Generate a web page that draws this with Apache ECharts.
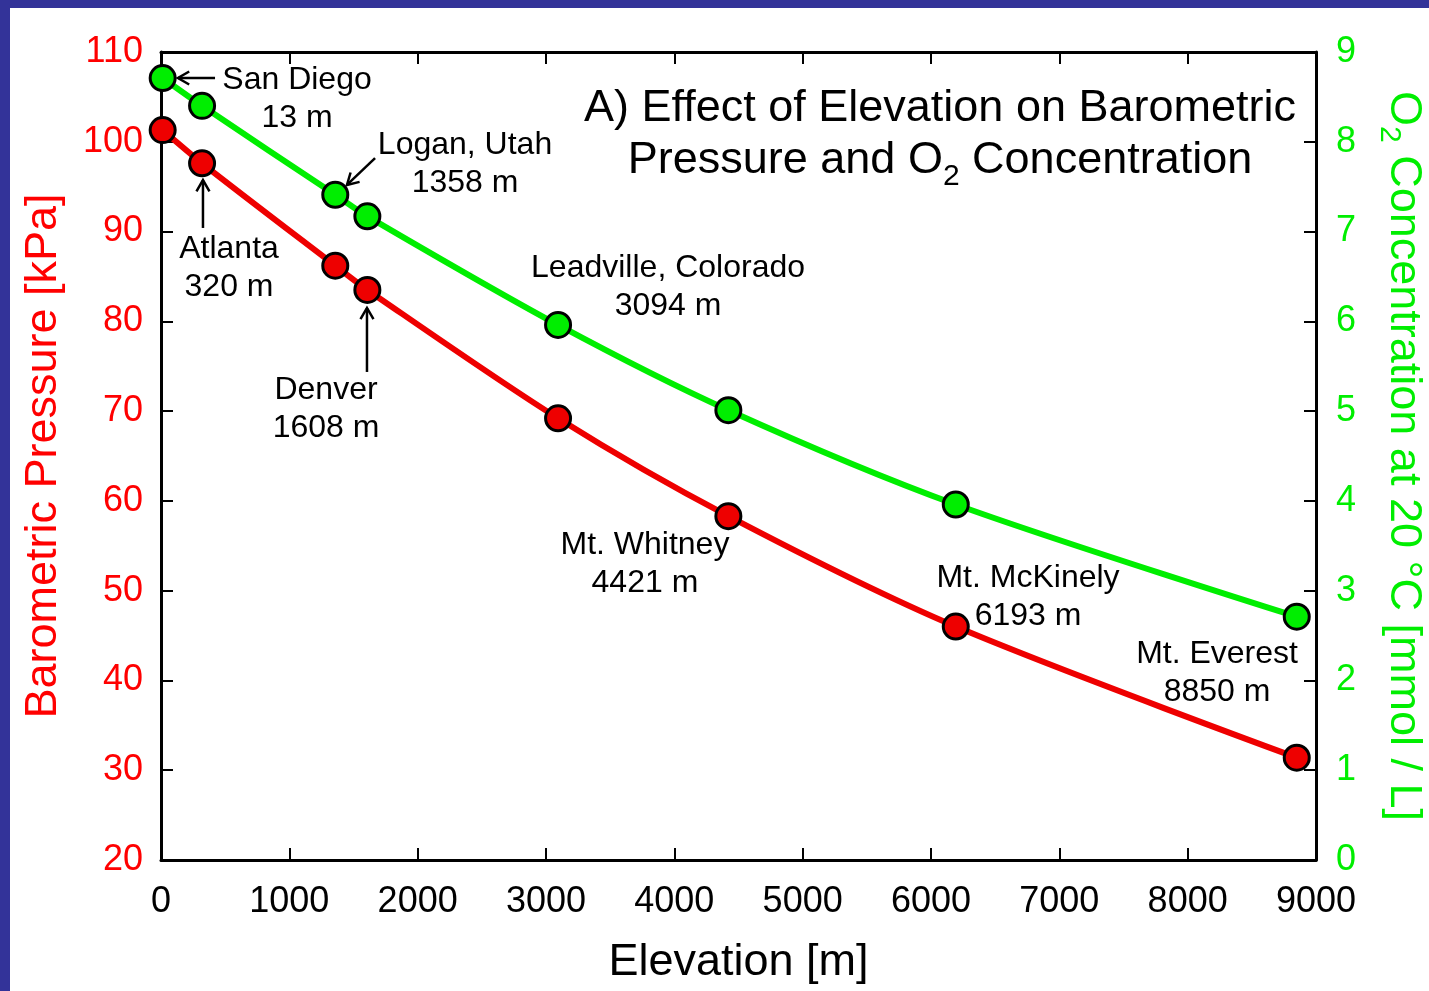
<!DOCTYPE html>
<html>
<head>
<meta charset="utf-8">
<script src="https://cdn.jsdelivr.net/npm/echarts@6/dist/echarts.min.js"></script>
<style>
html,body{margin:0;padding:0;background:#333399;width:1429px;height:991px;overflow:hidden;}
#c{position:absolute;left:10px;top:8px;width:1419px;height:983px;background:#fff;}
</style>
</head>
<body>
<div id="c"></div>
<script>
// ---- data ----
const elevations = [13, 320, 1358, 1608, 3094, 4421, 6193, 8850];
const pressure = [101.3, 97.6, 86.2, 83.5, 69.2, 58.3, 46.0, 31.4];
const o2 = [8.71, 8.40, 7.41, 7.17, 5.96, 5.01, 3.96, 2.71];
const placeNames = ['San Diego', 'Atlanta', 'Logan, Utah', 'Denver', 'Leadville, Colorado', 'Mt. Whitney', 'Mt. McKinely', 'Mt. Everest'];
const xTicks = [0, 1000, 2000, 3000, 4000, 5000, 6000, 7000, 8000, 9000];
const leftTicks = [20, 30, 40, 50, 60, 70, 80, 90, 100, 110];
const rightTicks = [0, 1, 2, 3, 4, 5, 6, 7, 8, 9];

// ---- annotation layout (data coordinates: elevation, pressure) ----
const labelAnchors = [
  [1060, 104.76], [530, 85.89], [2369, 97.53], [1286, 70.24],
  [3951, 83.77], [3771, 52.97], [6756, 49.30], [8229, 40.83]
];
const arrows = [
  [[421, 107.1], [132, 107.1]],
  [[327, 90.40], [327, 95.74]],
  [[1668, 98.19], [1449, 95.19]],
  [[1605, 74.36], [1605, 81.49]]
];

const FONT = "'Liberation Sans', Arial, sans-serif";
const RED = '#ff0000';
const GREEN = '#00ee00';

const chart = echarts.init(document.getElementById('c'), null, {renderer: 'canvas'});

const pData = elevations.map((e, i) => [e, pressure[i]]);
const oData = elevations.map((e, i) => [e, o2[i]]);

const tickCommon = {show: true, inside: true, length: 12, lineStyle: {color: '#000', width: 2}};

chart.setOption({
  animation: false,
  backgroundColor: '#fff',
  title: {
    text: '{a|A) Effect of Elevation on Barometric}\n{a|Pressure and O}{s|2}{a| Concentration}',
    left: 925, top: 70, textAlign: 'center',
    textStyle: {
      fontWeight: 'normal',
      rich: {
        a: {fontFamily: FONT, fontSize: 45, fontWeight: 'normal', color: '#000', lineHeight: 52, align: 'center'},
        s: {fontFamily: FONT, fontSize: 30, fontWeight: 'normal', color: '#000', lineHeight: 52, padding: [32, 0, 0, 0]}
      }
    }
  },
  grid: {left: 151, top: 44, right: 113, bottom: 131, containLabel: false, outerBoundsMode: 'none'},
  xAxis: [{
    type: 'value', min: xTicks[0], max: xTicks[xTicks.length - 1], interval: 1000,
    position: 'bottom',
    axisLine: {show: true, onZero: false, lineStyle: {color: '#000', width: 3}},
    axisTick: tickCommon,
    axisLabel: {color: '#000', fontSize: 36, fontFamily: FONT, margin: 24, formatter: v => String(v)},
    splitLine: {show: false},
    name: 'Elevation [m]', nameLocation: 'middle', nameGap: 80,
    nameTextStyle: {color: '#000', fontSize: 45, fontFamily: FONT}
  }, {
    type: 'value', min: xTicks[0], max: xTicks[xTicks.length - 1], interval: 1000,
    position: 'top',
    axisLine: {show: true, onZero: false, lineStyle: {color: '#000', width: 3}},
    axisTick: tickCommon,
    axisLabel: {show: false},
    splitLine: {show: false}
  }],
  yAxis: [{
    type: 'value', min: leftTicks[0], max: leftTicks[leftTicks.length - 1], interval: 10,
    position: 'left',
    axisLine: {show: true, onZero: false, lineStyle: {color: '#000', width: 3}},
    axisTick: tickCommon,
    axisLabel: {color: RED, fontSize: 36, fontFamily: FONT, margin: 18},
    splitLine: {show: false},
    name: 'Barometric Pressure [kPa]', nameLocation: 'middle', nameGap: 95,
    nameTextStyle: {color: RED, fontSize: 45, fontFamily: FONT}
  }, {
    type: 'value', min: rightTicks[0], max: rightTicks[rightTicks.length - 1], interval: 1,
    position: 'right',
    axisLine: {show: true, onZero: false, lineStyle: {color: '#000', width: 3}},
    axisTick: tickCommon,
    axisLabel: {color: GREEN, fontSize: 36, fontFamily: FONT, margin: 20},
    splitLine: {show: false},
    name: '{a|O}{s|2}{a| Concentration at 20 °C [mmol / L]}', nameLocation: 'middle', nameGap: 63, nameRotate: -90,
    nameTextStyle: {
      color: GREEN,
      rich: {
        a: {color: GREEN, fontSize: 45, fontFamily: FONT, lineHeight: 48},
        s: {color: GREEN, fontSize: 30, fontFamily: FONT, lineHeight: 48, padding: [28, 0, 0, 0]}
      }
    }
  }],
  series: [{
    name: 'O2', type: 'line', xAxisIndex: 0, yAxisIndex: 1, data: oData,
    smooth: 0.3, symbol: 'circle', symbolSize: 25,
    lineStyle: {color: GREEN, width: 6},
    itemStyle: {color: GREEN, borderColor: '#000', borderWidth: 3},
    z: 3
  }, {
    name: 'Pressure', type: 'line', xAxisIndex: 0, yAxisIndex: 0, data: pData,
    smooth: 0.3, symbol: 'circle', symbolSize: 25,
    lineStyle: {color: '#ee0000', width: 6},
    itemStyle: {color: '#ee0000', borderColor: '#000', borderWidth: 3},
    z: 3
  }]
});

function px(pt) {
  return chart.convertToPixel({xAxisIndex: 0, yAxisIndex: 0}, pt);
}

const graphics = [];
placeNames.forEach((name, i) => {
  const p = px(labelAnchors[i]);
  graphics.push({
    type: 'text', x: p[0], y: p[1], z: 10,
    style: {
      text: name + '\n' + elevations[i] + ' m',
      font: '32px ' + FONT, fill: '#000',
      align: 'center', verticalAlign: 'middle', lineHeight: 38
    }
  });
});
arrows.forEach(a => {
  const s = px(a[0]), e = px(a[1]);
  const ang = Math.atan2(e[1] - s[1], e[0] - s[0]);
  const hl = 13, ha = Math.PI / 6;
  const h1 = [e[0] - hl * Math.cos(ang - ha), e[1] - hl * Math.sin(ang - ha)];
  const h2 = [e[0] - hl * Math.cos(ang + ha), e[1] - hl * Math.sin(ang + ha)];
  graphics.push({type: 'polyline', z: 10, shape: {points: [s, e]}, style: {stroke: '#000', lineWidth: 2.5, fill: null}});
  graphics.push({type: 'polyline', z: 10, shape: {points: [h1, e, h2]}, style: {stroke: '#000', lineWidth: 2.5, fill: null}});
});
chart.setOption({graphic: graphics});
</script>
</body>
</html>
